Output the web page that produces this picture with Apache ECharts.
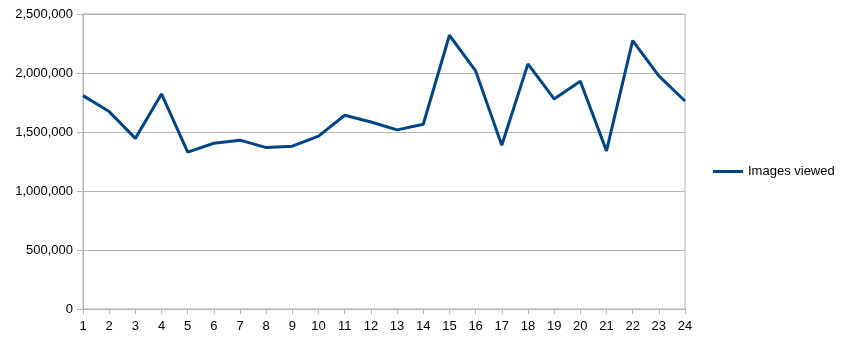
<!DOCTYPE html>
<html><head><meta charset="utf-8">
<script src="https://cdn.jsdelivr.net/npm/echarts@6/dist/echarts.min.js"></script>
<style>html,body{margin:0;padding:0;background:#fff}#c{width:847px;height:340px}</style>
</head><body><div id="c"></div>
<script>
const categories = ['1','2','3','4','5','6','7','8','9','10','11','12','13','14','15','16','17','18','19','20','21','22','23','24'];
const seriesName = 'Images viewed';
const imagesViewed = [1808000,1673000,1446000,1823000,1329000,1405000,1431000,1368000,1380000,1465000,1642000,1585000,1518000,1566000,2320000,2018000,1388000,2077000,1780000,1930000,1340000,2274000,1975000,1763000];
const yTicks = [0,500000,1000000,1500000,2000000,2500000];

const chart = echarts.init(document.getElementById('c'), null, {renderer:'canvas'});
const grey = '#b3b3b3';
const font = '"Liberation Sans", Arial, sans-serif';
chart.setOption({
  animation:false,
  grid:{left:83,right:162,top:14,bottom:31,show:true,borderColor:grey,borderWidth:1,backgroundColor:'transparent'},
  legend:{
    show:true, orient:'vertical', left:713, top:165, padding:0,
    itemWidth:30, itemHeight:3, itemGap:5,
    icon:'rect',
    textStyle:{fontFamily:font,fontSize:13,color:'#000'},
    data:[{name:seriesName,icon:'rect'}]
  },
  xAxis:{
    type:'category', data:categories, boundaryGap:false,
    axisLine:{show:true,lineStyle:{color:grey}},
    axisTick:{show:true,alignWithLabel:true,length:5,lineStyle:{color:grey}},
    axisLabel:{color:'#000',fontFamily:font,fontSize:13,margin:11,interval:0},
    splitLine:{show:false}
  },
  yAxis:{
    type:'value', min:yTicks[0], max:yTicks[yTicks.length-1], interval:500000,
    axisLine:{show:true,lineStyle:{color:grey}},
    axisTick:{show:true,length:6,lineStyle:{color:grey}},
    axisLabel:{color:'#000',fontFamily:font,fontSize:13,margin:10,
      formatter:v=>v.toLocaleString('en-US')},
    splitLine:{show:true,lineStyle:{color:grey,width:1}}
  },
  series:[{
    name:seriesName, type:'line', data:imagesViewed,
    symbol:'none', lineStyle:{color:'#004586',width:3}, itemStyle:{color:'#004586'}
  }]
});
</script></body></html>
